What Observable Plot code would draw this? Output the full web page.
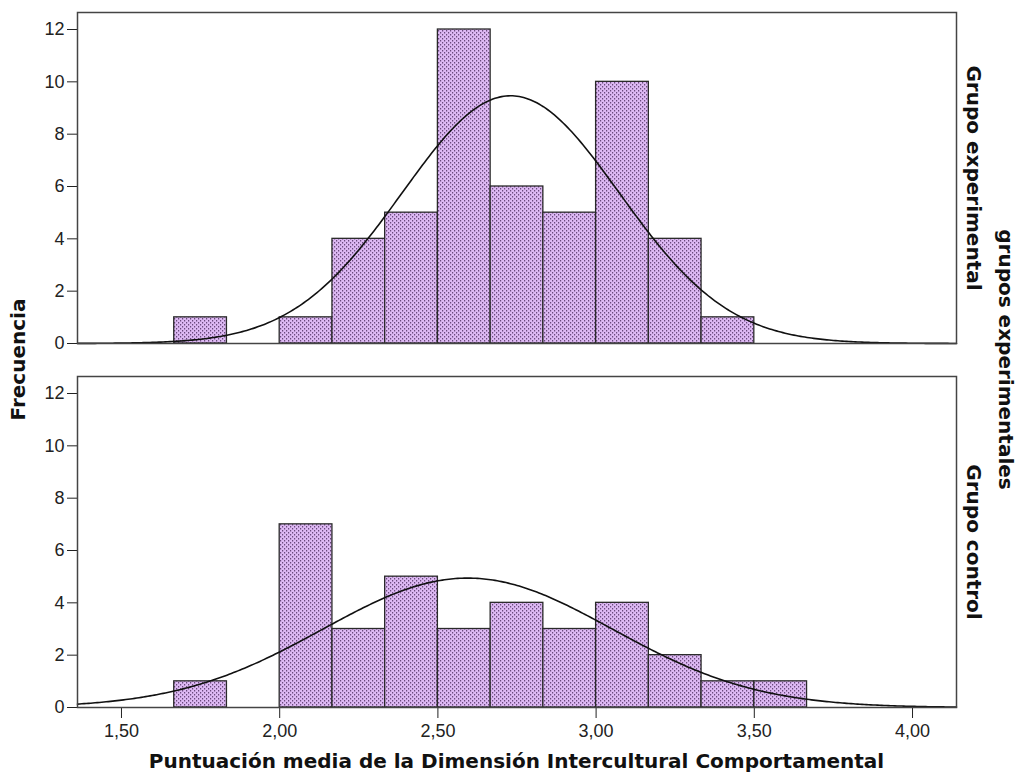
<!DOCTYPE html>
<html><head><meta charset="utf-8">
<script src="https://cdn.jsdelivr.net/npm/d3@7"></script>
<script src="https://cdn.jsdelivr.net/npm/@observablehq/plot@0.6"></script>
<style>body{margin:0;background:#fff}</style>
</head><body><div id="chart"></div>
<script>
// ---- data ----
const groups = ["Grupo experimental", "Grupo control"];
const binEdges = [1.6667, 1.8333, 2.0, 2.1667, 2.3333, 2.5, 2.6667, 2.8333, 3.0, 3.1667, 3.3333, 3.5, 3.6667];
const expCounts  = [1, 0, 1, 4, 5, 12, 6, 5, 10, 4, 1, 0];
const ctrlCounts = [1, 0, 7, 3, 5, 3, 4, 3, 4, 2, 1, 1];
const expFit  = {mean: 2.73,  sd: 0.344, n: 49};
const ctrlFit = {mean: 2.594, sd: 0.457, n: 34};
const xTicks = [1.5, 2.0, 2.5, 3.0, 3.5, 4.0];
const yTicks = [0, 2, 4, 6, 8, 10, 12];
const xDomain = [1.361, 4.139];
const yDomain = [0, 12.65];
const xLabel = "Puntuación media de la Dimensión Intercultural Comportamental";
const yLabel = "Frecuencia";
const fyLabel = "grupos experimentales";

// ---- tables built from the arrays ----
const bars = [];
[[groups[0], expCounts], [groups[1], ctrlCounts]].forEach(([g, counts]) => {
  counts.forEach((c, i) => { if (c > 0) bars.push({group: g, x1: binEdges[i], x2: binEdges[i + 1], count: c}); });
});
const binWidth = binEdges[1] - binEdges[0];
const curve = [];
[[groups[0], expFit], [groups[1], ctrlFit]].forEach(([g, f]) => {
  const N = 400;
  for (let k = 0; k <= N; k++) {
    const x = xDomain[0] + (xDomain[1] - xDomain[0]) * k / N;
    const z = (x - f.mean) / f.sd;
    curve.push({group: g, x, y: f.n * binWidth * Math.exp(-0.5 * z * z) / (f.sd * Math.sqrt(2 * Math.PI))});
  }
});

const W = 1019, H = 774, mT = 12, mB = 67, mL = 77, mR = 63;
const titleFont = "'DejaVu Sans', Verdana, sans-serif";
const titleSize = 20;

const plot = Plot.plot({
  width: W, height: H,
  marginTop: mT, marginBottom: mB, marginLeft: mL, marginRight: mR,
  style: {fontFamily: "'Liberation Sans', Arial, sans-serif", fontSize: "18px", color: "#222", background: "#fff"},
  x: {domain: xDomain, ticks: xTicks, tickFormat: d => d3.format(".2f")(d).replace(".", ","), label: null, tickSize: 11, tickPadding: 6},
  y: {domain: yDomain, ticks: yTicks, label: null, tickSize: 10, tickPadding: 3},
  fy: {domain: groups, padding: 0.0907, axis: null, label: null},
  marks: [
    Plot.rectY(bars, {x1: "x1", x2: "x2", y1: 0, y2: "count", fy: "group", fill: "url(#dots)", stroke: "#2a2a2a", strokeWidth: 1.3}),
    Plot.line(curve, {x: "x", y: "y", fy: "group", stroke: "#111", strokeWidth: 1.6}),
    Plot.frame({stroke: "#444", strokeWidth: 1.5}),
    Plot.text(groups, {fy: d => d, text: d => d, frameAnchor: "right", textAnchor: "middle", rotate: 90, dx: 17,
      fontWeight: "bold", fontSize: titleSize, fontFamily: titleFont, fill: "#111"})
  ]
});

const svg = d3.select(plot);
svg.insert("defs", ":first-child").html(
  '<pattern id="dots" width="4" height="4" patternUnits="userSpaceOnUse">' +
  '<rect width="4" height="4" fill="#deb9f4"/>' +
  '<rect x="0" y="0" width="1.2" height="1.5" fill="#6b4a7e"/>' +
  '<rect x="2" y="2" width="1.2" height="1.5" fill="#6b4a7e"/>' +
  '</pattern>');

const midY = (mT + H - mB) / 2;
const midX = (mL + W - mR) / 2;
const g = svg.append("g").attr("font-family", titleFont).attr("font-weight", "bold").attr("font-size", titleSize).attr("fill", "#111").attr("text-anchor", "middle");
g.append("text").attr("transform", `translate(18,${midY}) rotate(-90)`).attr("dy", "0.35em").text(yLabel);
g.append("text").attr("x", midX).attr("y", 768).text(xLabel);
g.append("text").attr("transform", `translate(1006,${midY}) rotate(90)`).attr("dy", "0.35em").text(fyLabel);

document.getElementById("chart").appendChild(plot);
</script>
</body></html>
